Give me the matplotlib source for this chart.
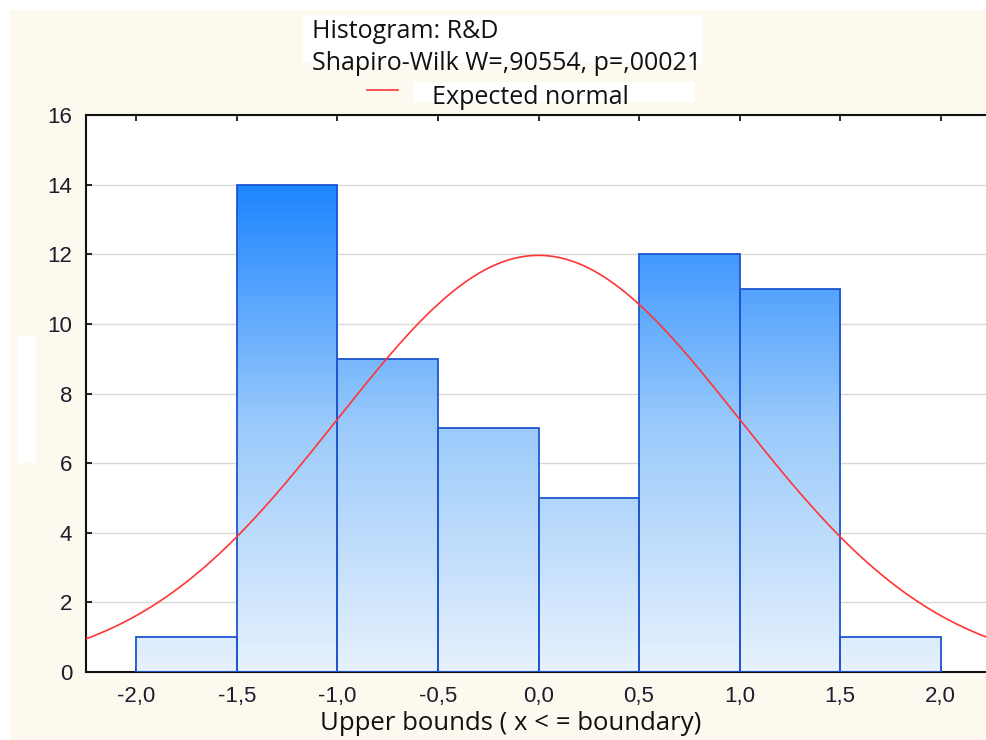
import numpy as np
import matplotlib.pyplot as plt
from matplotlib.colors import LinearSegmentedColormap
from matplotlib.patches import Rectangle

# histogram of R&D (standardized), bins of width 0.5
bin_left = [-2.0, -1.5, -1.0, -0.5, 0.0, 0.5, 1.0, 1.5]
counts = [1, 14, 9, 7, 5, 12, 11, 1]
bin_width = 0.5
x_ticks = [-2.0, -1.5, -1.0, -0.5, 0.0, 0.5, 1.0, 1.5, 2.0]
y_ticks = [0, 2, 4, 6, 8, 10, 12, 14, 16]
title_lines = ["Histogram: R&D", "Shapiro-Wilk W=,90554, p=,00021"]
legend_label = "Expected normal"
x_label = "Upper bounds ( x < = boundary)"

tick_font = "Liberation Sans"
text_font = "Open Sans"

fig = plt.figure(figsize=(9.86, 7.4), dpi=100)
fig.patch.set_facecolor("white")
W, H = 986, 740


def fx(px):
    return px / W


def fy(py):
    return 1 - py / H


# cream background and white blocks behind the header
fig.patches.append(Rectangle((fx(10), 0), 1, fy(10), transform=fig.transFigure,
                             facecolor="#fdf9ef", edgecolor="none", zorder=0))
fig.patches.append(Rectangle((fx(303), fy(63)), fx(702 - 303), (63 - 15) / H,
                             transform=fig.transFigure, facecolor="white",
                             edgecolor="none", zorder=1))
fig.patches.append(Rectangle((fx(413), fy(102)), fx(695 - 413), (102 - 82) / H,
                             transform=fig.transFigure, facecolor="white",
                             edgecolor="none", zorder=1))
fig.patches.append(Rectangle((fx(18), fy(463)), fx(18), (463 - 336) / H,
                             transform=fig.transFigure, facecolor="white",
                             edgecolor="none", zorder=1))

ax = fig.add_axes([fx(86), fy(672), fx(991 - 86), (672 - 115) / H])
ax.set_zorder(3)
ax.set_facecolor("white")

cmap = LinearSegmentedColormap.from_list("bl", ["#e6f1fd", "#9ccbfb", "#1e86ff"])
top_val = max(counts)
bars = ax.bar(bin_left, counts, width=bin_width, align="edge",
              facecolor="none", edgecolor="#1f55d0", linewidth=1.3, zorder=3)
for b, c in zip(bars, counts):
    x0 = b.get_x()
    grad = np.linspace(0, c / top_val, 100).reshape(-1, 1)
    im = ax.imshow(grad, cmap=cmap, vmin=0, vmax=1, origin="lower", aspect="auto",
                   extent=[x0, x0 + bin_width, 0, c], zorder=2, interpolation="bilinear")
    im.set_clip_path(b)

# expected normal curve
n_total = sum(counts)
xs = np.linspace(-2.25, 2.25, 400)
ys = n_total * bin_width * np.exp(-0.5 * xs ** 2) / np.sqrt(2 * np.pi)
ax.plot(xs, ys, color="#ff3535", linewidth=1.2, zorder=4)
ax.set_xlim(-2.25, 2.25)
ax.set_ylim(0, 16)

ax.set_yticks(y_ticks)
ax.set_xticks(x_ticks)
ax.set_xticklabels([f"{v:.1f}".replace(".", ",") for v in x_ticks],
                   fontfamily=tick_font, fontsize=16, color="#1c1c2c")
ax.set_yticklabels([str(v) for v in y_ticks], fontfamily=tick_font,
                   fontsize=16, color="#1c1c2c")
ax.tick_params(direction="in", length=4, width=1.2, top=True, right=False)
ax.tick_params(axis="y", pad=10)
ax.tick_params(axis="x", pad=10)
ax.yaxis.grid(True, color="#d8d8d8", linewidth=1.0, zorder=0)
ax.set_axisbelow(True)
for side in ["left", "bottom", "top"]:
    ax.spines[side].set_color("#111111")
    ax.spines[side].set_linewidth(1.5)
ax.spines["right"].set_visible(False)

fig.text(fx(312), fy(31), title_lines[0], fontfamily=text_font, fontsize=18,
         va="center", ha="left", color="#111111", zorder=5)
fig.text(fx(312), fy(63), title_lines[1], fontfamily=text_font, fontsize=18,
         va="center", ha="left", color="#111111", zorder=5)
fig.lines.append(plt.Line2D([fx(367), fx(398)], [fy(90), fy(90)], transform=fig.transFigure,
                            color="#ff3535", linewidth=1.2, zorder=5))
fig.text(fx(432), fy(97), legend_label, fontfamily=text_font, fontsize=18,
         va="center", ha="left", color="#111111", zorder=5)
fig.text(fx(511), fy(724), x_label, fontfamily=text_font, fontsize=18.5,
         va="center", ha="center", color="#111111", zorder=5)

fig.savefig("out.png", dpi=100, facecolor=fig.get_facecolor())
